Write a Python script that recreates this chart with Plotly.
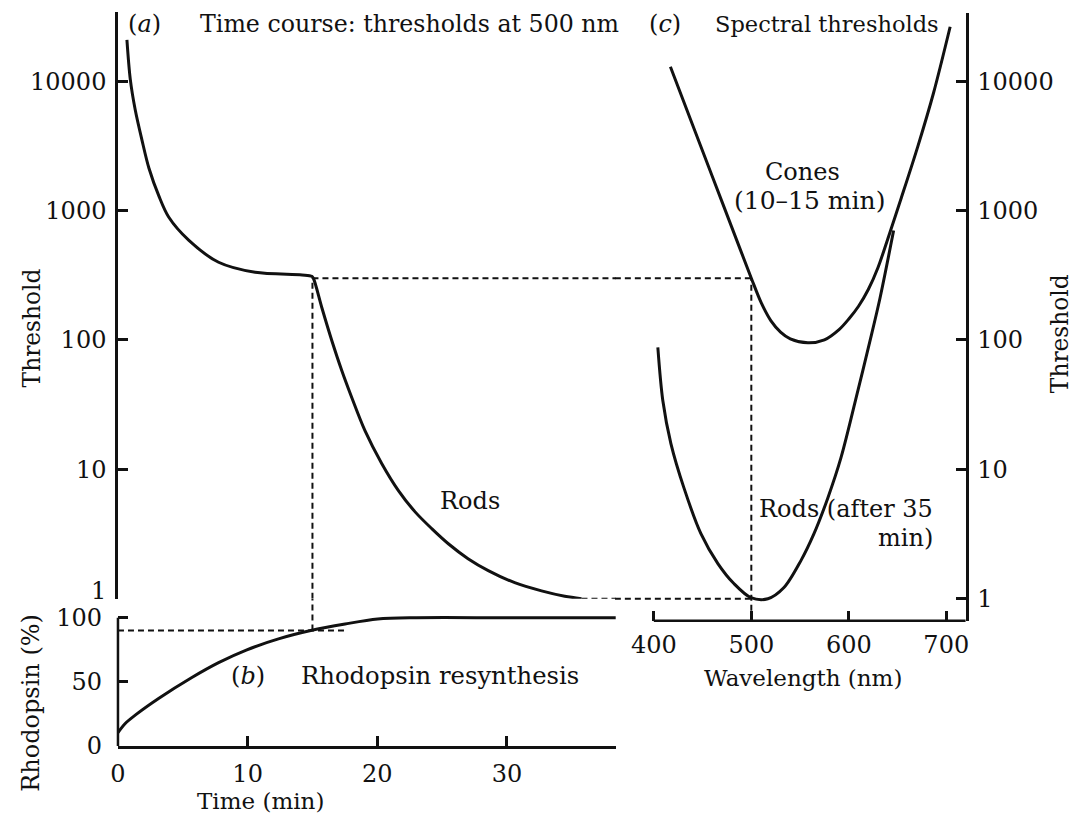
import plotly.graph_objects as go

# ---------------- data ----------------
# (a) dark-adaptation time course, threshold at 500 nm
time_a = [0.69, 0.95, 1.33, 1.85, 2.39, 3.16, 3.91, 5.45, 7.76, 10.58, 14.2, 14.95,
          15.08, 15.72, 16.49, 17.26, 18.03, 19.05, 20.34, 21.63, 22.9, 24.2, 25.48,
          27.0, 28.56, 30.6, 32.67, 34.46, 35.75]
thresh_a = [20800, 10300, 6000, 3500, 2120, 1290, 890, 590, 398, 333, 318, 310,
            298, 178, 99, 58, 35.9, 19.9, 11.1, 6.85, 4.71, 3.48, 2.66,
            2.04, 1.65, 1.33, 1.15, 1.045, 1.0]

# (b) rhodopsin resynthesis
time_b = [0, 0.56, 1.33, 3.13, 5.7, 7.76, 9.94, 12.38, 14.87, 17.52, 20.03, 23.0, 30.0, 38.4]
rhodopsin = [10.4, 17.5, 24.0, 37.0, 53.4, 65.0, 75.0, 83.5, 90.0, 95.1, 99.0, 100, 100, 100]

# (c) spectral thresholds
wl_cones = [417, 440, 460, 480, 500, 510, 520, 530, 540, 558, 575, 590, 600, 610, 620,
            630, 640, 654, 671, 687, 704]
th_cones = [12900, 4540, 1830, 741, 300, 195, 141, 115, 102, 95, 100, 120, 145, 182, 245,
            363, 603, 1260, 3160, 8130, 26300]
wl_rods = [404.1, 409.2, 417.5, 430.8, 448.3, 465.7, 482.1, 499.6, 517, 533.5, 550.9,
           564.3, 578.6, 592, 609.4, 622, 632, 646]
th_rods = [87.5, 34.0, 15.8, 7.22, 3.18, 1.87, 1.31, 1.02, 1.0, 1.22, 1.97,
           3.18, 6.04, 12.3, 40.8, 100, 210, 700]

# reference (matching) values for the dashed guide lines
match_time = 15
match_threshold = 300
match_wavelength = 500
rhodopsin_at_match = 90
rhodopsin_guide_end = 17.5
rod_plateau_time = 35.75
rod_abs_threshold = 1

thresh_ticks = [1, 10, 100, 1000, 10000]
thresh_ticktext = ["1", "10", "100", "1000", "10000"]
time_ticks = [0, 10, 20, 30]
rho_ticks = [0, 50, 100]
wl_ticks = [400, 500, 600, 700]

# ---------------- layout geometry ----------------
W, H = 1073, 832
SX, OX, SY = 0.99, 7.0, 0.982   # picture-to-page calibration
def px(x):
    return ((x - OX) / SX) / W
def py(y):
    return 1 - (y / SY) / H

INK = "#111111"
FONT = "DejaVu Serif"
DEC = 129.25  # pixels per decade on the threshold axes
t_max = 38.4
ya_range = [0, (598 - 12) / DEC]
yc_range = [-(620 - 598) / DEC, (598 - 13) / DEC]
yb_top = 100 * (745 - 598) / (745 - 617)
xc_range = [360, 720]

fig = go.Figure()

curve = dict(color=INK, width=3, shape="spline", smoothing=0.9)
dash = dict(color=INK, width=2, dash="6px,4px")

# (a)
fig.add_trace(go.Scatter(x=time_a, y=thresh_a, mode="lines", line=curve, xaxis="x", yaxis="y"))
fig.add_trace(go.Scatter(x=[match_time, t_max], y=[match_threshold, match_threshold], mode="lines",
                         line=dash, xaxis="x", yaxis="y"))
fig.add_trace(go.Scatter(x=[match_time, match_time], y=[1, match_threshold], mode="lines",
                         line=dash, xaxis="x", yaxis="y"))
fig.add_trace(go.Scatter(x=[rod_plateau_time, t_max], y=[rod_abs_threshold, rod_abs_threshold], mode="lines",
                         line=dash, xaxis="x", yaxis="y"))

# (b)
fig.add_trace(go.Scatter(x=time_b, y=rhodopsin, mode="lines", line=curve, xaxis="x2", yaxis="y2"))
fig.add_trace(go.Scatter(x=[0, rhodopsin_guide_end], y=[rhodopsin_at_match, rhodopsin_at_match], mode="lines",
                         line=dash, xaxis="x2", yaxis="y2"))
fig.add_trace(go.Scatter(x=[match_time, match_time], y=[rhodopsin_at_match, yb_top], mode="lines",
                         line=dash, xaxis="x2", yaxis="y2"))

# (c)
fig.add_trace(go.Scatter(x=wl_cones, y=th_cones, mode="lines", line=curve, xaxis="x3", yaxis="y3"))
fig.add_trace(go.Scatter(x=wl_rods, y=th_rods, mode="lines", line=curve, xaxis="x3", yaxis="y3"))
fig.add_trace(go.Scatter(x=[xc_range[0], match_wavelength], y=[match_threshold, match_threshold], mode="lines",
                         line=dash, xaxis="x3", yaxis="y3"))
fig.add_trace(go.Scatter(x=[xc_range[0], match_wavelength], y=[rod_abs_threshold, rod_abs_threshold], mode="lines",
                         line=dash, xaxis="x3", yaxis="y3"))
fig.add_trace(go.Scatter(x=[match_wavelength, match_wavelength], y=[10 ** yc_range[0], match_threshold],
                         mode="lines", line=dash, xaxis="x3", yaxis="y3"))

tickfont = dict(family=FONT, size=24, color=INK)
axis_common = dict(showgrid=False, zeroline=False, ticks="inside", ticklen=10, tickwidth=2.5,
                   tickcolor=INK, linecolor=INK, linewidth=2.5, tickfont=tickfont)

# the "1" label of the left threshold axis sits a little above its tick in the reference
left_ticktext = [""] + thresh_ticktext[1:]

fig.update_layout(
    width=W, height=H, margin=dict(l=0, r=0, t=0, b=0),
    paper_bgcolor="white", plot_bgcolor="rgba(0,0,0,0)", showlegend=False,
    xaxis=dict(domain=[px(117), px(615)], range=[0, t_max], visible=False, anchor="y"),
    yaxis=dict(domain=[py(598), py(12)], type="log", range=ya_range, anchor="x",
               showline=True, tickvals=thresh_ticks, ticktext=left_ticktext,
               ticklabelstandoff=4, **axis_common),
    xaxis2=dict(domain=[px(117), px(615)], range=[0, t_max], anchor="y2", showline=True,
                tickvals=time_ticks, ticklabelstandoff=5, **axis_common),
    yaxis2=dict(domain=[py(745), py(598)], range=[0, yb_top], anchor="x2", showline=False,
                tickvals=rho_ticks, ticklabelstandoff=15, **axis_common),
    xaxis3=dict(domain=[px(614), px(965)], range=xc_range, anchor="y3", showline=False,
                tickvals=wl_ticks, ticklabelstandoff=7, **axis_common),
    yaxis3=dict(domain=[py(620), py(13)], type="log", range=yc_range, anchor="x3", side="right",
                showline=True, tickvals=thresh_ticks, ticktext=thresh_ticktext,
                ticklabelstandoff=4, **axis_common),
)

# axis lines that stop at a data value
fig.add_shape(type="line", xref="x2 domain", yref="y2", x0=0, x1=0, y0=0, y1=100,
              line=dict(color=INK, width=2.5))
fig.add_shape(type="line", xref="x3", yref="y3 domain", x0=400, x1=xc_range[1], y0=0, y1=0,
              line=dict(color=INK, width=2.5))

def label(text, x, y, xanchor="center", size=24, angle=0):
    fig.add_annotation(text=text, x=px(x), y=py(y), xref="paper", yref="paper",
                       xanchor=xanchor, yanchor="middle", showarrow=False, textangle=angle,
                       font=dict(family=FONT, size=size, color=INK))

label(thresh_ticktext[0], 107, 590, "right")
label("(<i>a</i>)", 125, 24, "left", size=24)
label("Time course: thresholds at 500 nm", 197, 24, "left", size=23.7)
label("(<i>c</i>)", 646, 24, "left", size=24)
label("Spectral thresholds", 712, 24, "left", size=22.5)
label("Cones", 802, 172)
label("(10–15 min)", 809, 200, size=25)
label("Rods (after 35", 756, 508, "left")
label("min)", 934, 537, "right")
label("Rods", 469, 500)
label("(<i>b</i>)", 228, 675, "left")
label("Rhodopsin resynthesis", 298, 675, "left", size=24.3)
label("Threshold", 30, 327, size=23.3, angle=-90)
label("Threshold", 1059, 333, size=23.3, angle=-90)
label("Rhodopsin (%)", 30, 702, size=24, angle=-90)
label("Time (min)", 260, 800, size=23)
label("Wavelength (nm)", 802, 677, size=23)

fig.write_html("out.html", config={"displayModeBar": False},
               post_script="document.body.style.margin='0';document.body.style.overflow='hidden';")
